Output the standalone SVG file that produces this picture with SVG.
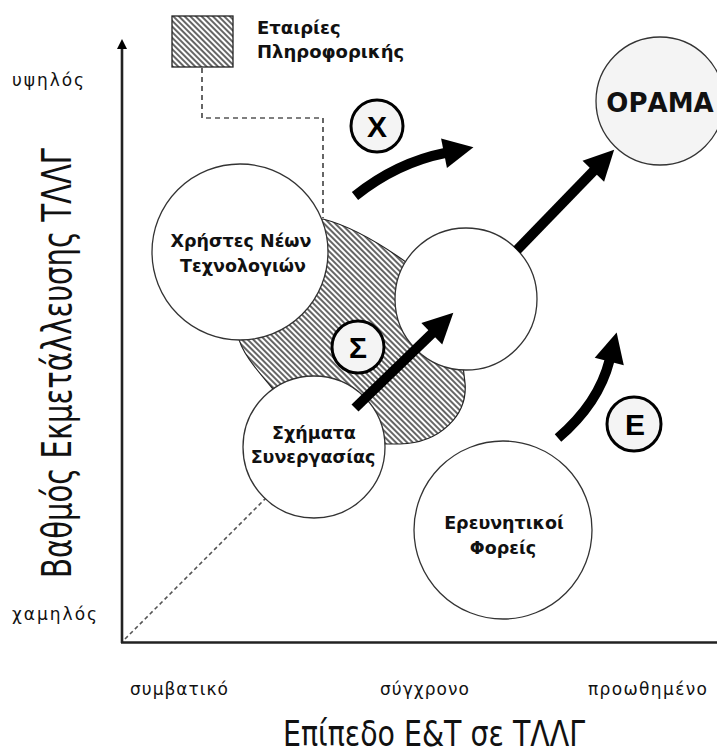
<svg xmlns="http://www.w3.org/2000/svg" width="717" height="753" viewBox="0 0 717 753">
<style>
.node{fill:#fff;stroke:#333;stroke-width:1.3}
.lbl{fill:#f4f4f4;stroke:#000;stroke-width:3}
.nt{font-family:"DejaVu Sans","Liberation Sans",sans-serif;font-weight:bold;font-size:17.5px;fill:#111;text-anchor:middle}
.lg{font-family:"DejaVu Sans","Liberation Sans",sans-serif;font-weight:bold;font-size:18px;fill:#111}
.lt{font-family:"Liberation Sans","DejaVu Sans",sans-serif;font-weight:bold;font-size:30px;fill:#000;text-anchor:middle}
.ax{font-family:"DejaVu Sans","Liberation Sans",sans-serif;font-size:17px;fill:#111}
.tt{font-family:"Liberation Sans Narrow","DejaVu Sans Condensed","Liberation Sans",sans-serif;font-stretch:condensed;fill:#111}
.shaft{fill:none;stroke:#000;stroke-width:10;marker-end:url(#ah)}
</style>
<defs>
<pattern id="hatch" patternUnits="userSpaceOnUse" width="4" height="4" patternTransform="rotate(45)">
<rect width="4" height="4" fill="#fff"/>
<line x1="0" y1="1" x2="4" y2="1" stroke="#000" stroke-width="1.2"/>
</pattern>
<marker id="ah" markerUnits="userSpaceOnUse" markerWidth="34" markerHeight="34" viewBox="0 -17 34 34" refX="1" refY="0" orient="auto" overflow="visible">
<path d="M0,-15 L30,0 L0,15 Z" fill="#000"/>
</marker>
<marker id="axh" markerUnits="userSpaceOnUse" markerWidth="12" markerHeight="12" viewBox="0 -6 12 12" refX="1" refY="0" orient="auto" overflow="visible">
<path d="M0,-5 L10,0 L0,5 Z" fill="#000"/>
</marker>
</defs>

<g id="axes">
<line x1="122" y1="643" x2="122" y2="48" stroke="#222" stroke-width="2.6" marker-end="url(#axh)"/>
<line x1="121" y1="642.5" x2="717" y2="642.5" stroke="#222" stroke-width="2.6"/>
<text class="ax" x="12" y="86" textLength="72" lengthAdjust="spacing">υψηλός</text>
<text class="ax" x="12" y="620" textLength="85" lengthAdjust="spacing">χαμηλός</text>
<text class="ax" x="130" y="695" textLength="98" lengthAdjust="spacing">συμβατικό</text>
<text class="ax" x="380" y="695" textLength="89" lengthAdjust="spacing">σύγχρονο</text>
<text class="ax" x="588" y="695" textLength="119" lengthAdjust="spacing">προωθημένο</text>
<text class="tt" font-size="40" transform="translate(71,578) rotate(-90)" textLength="430" lengthAdjust="spacingAndGlyphs">Βαθμός Εκμετάλλευσης ΤΛΛΓ</text>
<text class="tt" font-size="36" x="283" y="746" textLength="302" lengthAdjust="spacingAndGlyphs">Επίπεδο Ε&amp;Τ σε ΤΛΛΓ</text>
</g>

<g id="it-companies">
<path d="M323,219 C350,226 380,243 410,265 C440,287 462,340 465,383 C468,415 440,443 400,444 L385,444 C340,440 300,420 273,389 C255,368 240,350 238,335 C236,300 290,225 323,219 Z" fill="url(#hatch)" stroke="#222" stroke-width="1.2"/>
</g>

<g id="legend">
<rect x="172" y="16" width="61" height="51" fill="url(#hatch)" stroke="#222" stroke-width="1.3"/>
<text class="lg" x="257" y="34">Εταιρίες</text>
<text class="lg" x="257" y="58">Πληροφορικής</text>
</g>

<g id="connectors">
<path d="M202,68 L202,118 L323,118 L323,218" fill="none" stroke="#000" stroke-width="1.2" stroke-dasharray="5,4"/>
<path d="M125,639 L266,498" fill="none" stroke="#555" stroke-width="1.6" stroke-dasharray="4,3"/>
</g>

<g id="node-users">
<circle class="node" cx="240" cy="252" r="88"/>
<text class="nt" x="241" y="247">Χρήστες Νέων</text>
<text class="nt" x="243" y="272">Τεχνολογιών</text>
</g>

<g id="node-center">
<circle class="node" cx="466" cy="299" r="71"/>
</g>

<g id="node-cooperation">
<circle class="node" cx="314" cy="447" r="71"/>
<text class="nt" x="314" y="439">Σχήματα</text>
<text class="nt" x="313" y="463">Συνεργασίας</text>
</g>

<g id="node-research">
<circle class="node" cx="503" cy="530" r="89"/>
<text class="nt" x="504" y="529">Ερευνητικοί</text>
<text class="nt" x="503" y="554">Φορείς</text>
</g>

<g id="node-vision">
<circle cx="660" cy="101" r="64" fill="#f4f4f4" stroke="#333" stroke-width="1.3"/>
<text class="nt" x="660" y="112" style="font-size:26px">ΟΡΑΜΑ</text>
</g>

<g id="arrows">
<path class="shaft" d="M355,196 C380,176 410,160 445,153"/>
<path class="shaft" d="M517,250 L594,170.5"/>
<path class="shaft" d="M355,408 L432.5,333"/>
<path class="shaft" d="M558,438 C585,415 602,390 609.5,360.5"/>
</g>

<g id="label-x">
<circle class="lbl" cx="377" cy="126" r="26"/>
<text class="lt" x="377" y="137">Χ</text>
</g>
<g id="label-s">
<circle class="lbl" cx="358" cy="347" r="26"/>
<text class="lt" x="358" y="358">Σ</text>
</g>
<g id="label-e">
<circle class="lbl" cx="634" cy="424" r="27"/>
<text class="lt" x="635" y="435">Ε</text>
</g>
</svg>
